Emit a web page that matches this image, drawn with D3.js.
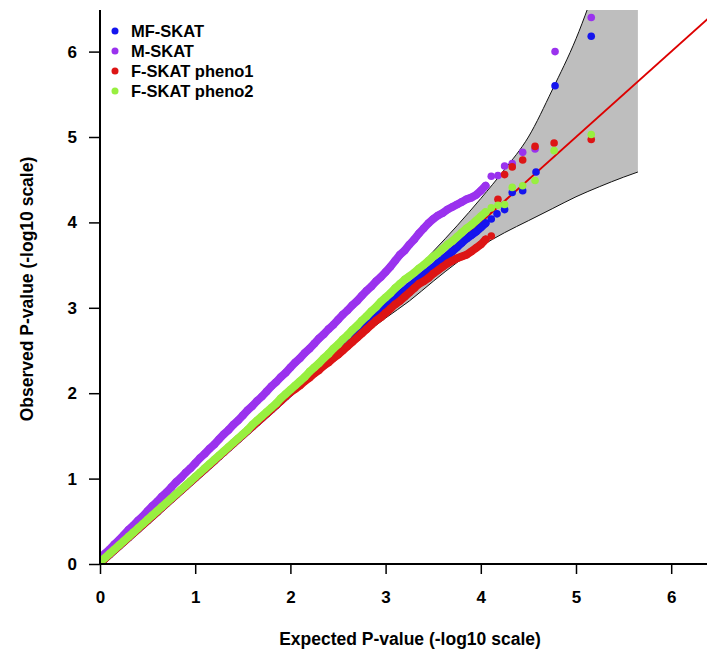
<!DOCTYPE html>
<html>
<head>
<meta charset="utf-8">
<script src="https://cdn.jsdelivr.net/npm/d3@7/dist/d3.min.js"></script>
<style>
  body { margin: 0; background: #ffffff; }
  svg { display: block; font-family: "Liberation Sans", Arial, sans-serif; font-weight: bold; }
</style>
</head>
<body>
<svg id="chart" width="707" height="651"></svg>
<script>

// expected -log10 p for the dense part of the qq plot
var expGrid = [0,0.05,0.1,0.15,0.2,0.25,0.3,0.35,0.4,0.45,0.5,0.55,0.6,0.65,0.7,0.75,0.8,0.85,0.9,0.95,
  1,1.05,1.1,1.15,1.2,1.25,1.3,1.35,1.4,1.45,1.5,1.55,1.6,1.65,1.7,1.75,1.8,1.85,1.9,1.95,
  2,2.05,2.1,2.15,2.2,2.25,2.3,2.35,2.4,2.45,2.5,2.55,2.6,2.65,2.7,2.75,2.8,2.85,2.9,2.95,
  3,3.05,3.1,3.15,3.2,3.25,3.3,3.35,3.4,3.45,3.5,3.55,3.6,3.65,3.7,3.75,3.8,3.85,3.9,3.95,4,4.05];

// observed -log10 p, one value per expGrid entry
var obsMF = [0.01,0.06,0.11,0.16,0.21,0.26,0.31,0.36,0.41,0.46,0.51,0.56,0.61,0.66,0.71,0.76,0.81,0.86,0.91,0.96,
  1.01,1.06,1.11,1.16,1.21,1.26,1.31,1.36,1.41,1.46,1.51,1.56,1.61,1.66,1.71,1.76,1.81,1.86,1.91,1.96,
  2.01,2.06,2.11,2.16,2.21,2.26,2.31,2.36,2.41,2.46,2.52,2.57,2.62,2.67,2.72,2.77,2.82,2.87,2.92,2.97,
  3.02,3.07,3.11,3.16,3.20,3.25,3.29,3.34,3.38,3.43,3.47,3.52,3.57,3.61,3.66,3.71,3.76,3.81,3.85,3.89,3.94,3.99];
var obsM = [0.06,0.12,0.17,0.23,0.28,0.34,0.40,0.45,0.51,0.56,0.62,0.68,0.73,0.79,0.84,0.90,0.96,1.01,1.07,1.12,
  1.18,1.24,1.29,1.35,1.40,1.46,1.52,1.57,1.63,1.68,1.74,1.80,1.85,1.91,1.96,2.02,2.08,2.13,2.19,2.24,
  2.30,2.36,2.41,2.47,2.52,2.58,2.64,2.69,2.75,2.80,2.86,2.92,2.97,3.03,3.08,3.14,3.20,3.25,3.31,3.36,
  3.42,3.48,3.55,3.62,3.67,3.74,3.80,3.87,3.93,3.99,4.04,4.08,4.11,4.15,4.18,4.21,4.24,4.27,4.29,4.32,4.37,4.43];
var obsF1 = [0.01,0.06,0.11,0.16,0.21,0.26,0.31,0.36,0.41,0.46,0.51,0.56,0.61,0.66,0.71,0.76,0.81,0.86,0.91,0.96,
  1.01,1.06,1.11,1.16,1.21,1.26,1.31,1.36,1.41,1.46,1.51,1.56,1.61,1.66,1.71,1.76,1.81,1.86,1.91,1.96,
  2.01,2.05,2.09,2.14,2.18,2.23,2.27,2.32,2.36,2.41,2.45,2.50,2.55,2.60,2.65,2.70,2.75,2.80,2.85,2.89,
  2.94,2.99,3.04,3.08,3.13,3.18,3.23,3.28,3.31,3.35,3.40,3.44,3.48,3.52,3.55,3.58,3.60,3.62,3.66,3.70,3.74,3.80];
var obsF2 = [0.02,0.07,0.12,0.17,0.22,0.27,0.32,0.37,0.42,0.47,0.52,0.57,0.62,0.67,0.72,0.77,0.82,0.87,0.92,0.97,
  1.02,1.07,1.12,1.17,1.22,1.27,1.32,1.37,1.42,1.47,1.52,1.57,1.63,1.68,1.73,1.78,1.83,1.88,1.94,1.99,
  2.04,2.09,2.14,2.19,2.25,2.30,2.35,2.41,2.46,2.52,2.57,2.63,2.68,2.74,2.79,2.85,2.90,2.96,3.01,3.07,
  3.12,3.17,3.23,3.28,3.33,3.37,3.41,3.46,3.50,3.55,3.60,3.64,3.69,3.74,3.78,3.83,3.88,3.93,3.97,4.02,4.07,4.12];

// sparse top hits [expected, observed]
var tailMF = [[4.11,4.04],[4.17,4.10],[4.25,4.15],[4.33,4.35],[4.44,4.37],[4.58,4.59],[4.78,5.60],[5.16,6.18]];
var tailM  = [[4.11,4.54],[4.18,4.55],[4.25,4.66],[4.33,4.69],[4.44,4.82],[4.57,4.86],[4.78,6.00],[5.16,6.40]];
var tailF1 = [[4.11,3.84],[4.18,4.27],[4.25,4.56],[4.33,4.65],[4.44,4.73],[4.57,4.89],[4.77,4.93],[5.16,4.97]];
var tailF2 = [[4.11,4.17],[4.18,4.20],[4.25,4.21],[4.33,4.41],[4.44,4.43],[4.57,4.49],[4.77,4.84],[5.16,5.03]];

// 95% band
var bandX  = [0,1,2,2.5,3,3.25,3.5,3.75,4,4.25,4.5,4.75,5,5.25,5.5,5.65];
var bandHi = [0,1.02,2.05,2.57,3.10,3.37,3.66,3.96,4.28,4.62,5.0,5.55,6.15,6.9,7.7,8.2];
var bandLo = [0,0.98,1.96,2.44,2.88,3.08,3.31,3.53,3.72,3.88,4.02,4.16,4.30,4.42,4.53,4.59];

var seriesNames  = ["MF-SKAT", "M-SKAT", "F-SKAT pheno1", "F-SKAT pheno2"];
var seriesColors = ["#1515ee", "#9a32ee", "#dd1515", "#98ef40"];
var xTicks = [0, 1, 2, 3, 4, 5, 6];
var yTicks = [0, 1, 2, 3, 4, 5, 6];

var QQ = (function () {

  var left = 100, bottom = 564, top = 10;
  var x = d3.scaleLinear().domain([0, 6.5]).range([left, left + 6.5 * 95.2]);
  var y = d3.scaleLinear().domain([0, (bottom - top) / 85.4]).range([bottom, top]);

  var dense = function (obs) {
    return obs.map(function (v, i) { return [expGrid[i], v]; });
  };

  return {
    Draw: function () {
      var svg = d3.select("#chart");

      svg.append("clipPath").attr("id", "plotclip")
        .append("rect").attr("x", left).attr("y", top)
        .attr("width", 707 - left).attr("height", bottom - top);

      var plot = svg.append("g").attr("clip-path", "url(#plotclip)");

      var band = bandX.map(function (d, i) { return { x: d, lo: bandLo[i], hi: bandHi[i] }; });

      plot.append("path").datum(band)
        .attr("fill", "#bebebe")
        .attr("d", d3.area().curve(d3.curveMonotoneX)
          .x(function (d) { return x(d.x); })
          .y0(function (d) { return y(d.lo); })
          .y1(function (d) { return y(d.hi); }));

      ["hi", "lo"].forEach(function (k) {
        plot.append("path").datum(band)
          .attr("fill", "none").attr("stroke", "#111").attr("stroke-width", 1)
          .attr("d", d3.line().curve(d3.curveMonotoneX)
            .x(function (d) { return x(d.x); })
            .y(function (d) { return y(d[k]); }));
      });

      // y = x reference
      plot.append("line")
        .attr("x1", x(0)).attr("y1", y(0))
        .attr("x2", x(7)).attr("y2", y(7))
        .attr("stroke", "#dd0000").attr("stroke-width", 2);

      var denseSets = [dense(obsMF), dense(obsM), dense(obsF1), dense(obsF2)];
      var tails = [tailMF, tailM, tailF1, tailF2];
      var trace = d3.line()
        .x(function (d) { return x(d[0]); })
        .y(function (d) { return y(d[1]); });

      denseSets.forEach(function (pts, s) {
        var g = plot.append("g");
        // thousands of overlapping points read as one thick trace
        g.append("path").datum(pts)
          .attr("fill", "none").attr("stroke", seriesColors[s])
          .attr("stroke-width", 8).attr("stroke-linecap", "round").attr("stroke-linejoin", "round")
          .attr("d", trace);
        g.selectAll("circle")
          .data(pts.concat(tails[s])).enter().append("circle")
          .attr("cx", function (d) { return x(d[0]); })
          .attr("cy", function (d) { return y(d[1]); })
          .attr("r", 3.8)
          .attr("fill", seriesColors[s]);
      });

      // axes
      var xAxis = svg.append("g").attr("transform", "translate(0," + bottom + ")")
        .call(d3.axisBottom(x).tickValues(xTicks).tickFormat(d3.format("d"))
          .tickSize(10).tickSizeOuter(0).tickPadding(17));
      var yAxis = svg.append("g").attr("transform", "translate(" + left + ",0)")
        .call(d3.axisLeft(y).tickValues(yTicks).tickFormat(d3.format("d"))
          .tickSize(11).tickSizeOuter(0).tickPadding(12));

      [xAxis, yAxis].forEach(function (a) {
        a.select(".domain").remove();
        a.selectAll(".tick line").attr("stroke", "#000").attr("stroke-width", 1.5);
        a.selectAll(".tick text").attr("fill", "#000")
          .style("font-size", "17px").style("font-family", "Liberation Sans, Arial, sans-serif")
          .style("font-weight", "bold");
      });

      svg.append("path")
        .attr("d", "M" + left + "," + top + "V" + bottom + "H707")
        .attr("fill", "none").attr("stroke", "#000").attr("stroke-width", 2);

      svg.append("text")
        .attr("x", 410).attr("y", 645)
        .attr("text-anchor", "middle").style("font-size", "17.5px")
        .text("Expected P-value (-log10 scale)");

      svg.append("text")
        .attr("transform", "translate(33,289) rotate(-90)")
        .attr("text-anchor", "middle").style("font-size", "17.5px")
        .text("Observed P-value (-log10 scale)");

      // legend
      var leg = svg.append("g").selectAll("g")
        .data(seriesNames).enter().append("g")
        .attr("transform", function (d, i) { return "translate(115," + (31 + i * 20) + ")"; });
      leg.append("circle").attr("r", 3.5)
        .attr("fill", function (d, i) { return seriesColors[i]; });
      leg.append("text").attr("x", 16).attr("y", 6)
        .style("font-size", "16.5px")
        .text(function (d) { return d; });
    }
  };
})();

QQ.Draw();
</script>
</body>
</html>
